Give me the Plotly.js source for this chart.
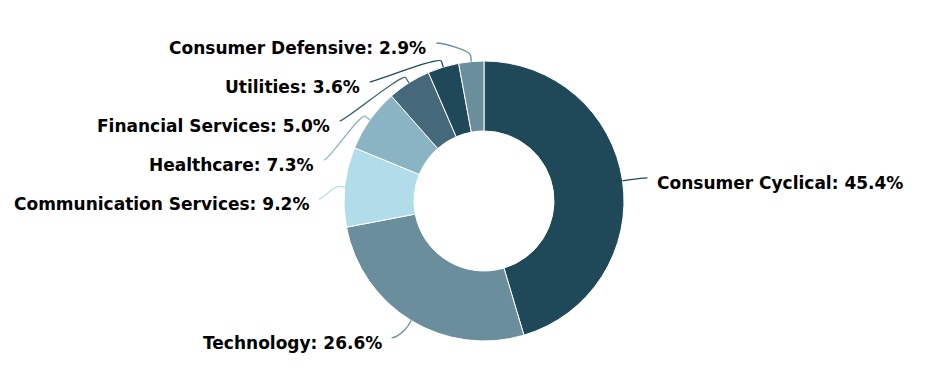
<!DOCTYPE html>
<html>
<head>
<meta charset="utf-8">
<script src="https://cdn.plot.ly/plotly-3.0.1.min.js"></script>
<style>html,body{margin:0;padding:0;background:#fff}#chart{width:932px;height:386px}</style>
</head>
<body>
<div id="chart"></div>
<script>
// ---- data ----
const sectors = ['Consumer Cyclical', 'Technology', 'Communication Services', 'Healthcare', 'Financial Services', 'Utilities', 'Consumer Defensive'];
const shares = [45.4, 26.6, 9.2, 7.3, 5.0, 3.6, 2.9];
const sliceColors = ['#1f4858', '#6a8e9c', '#b1dcea', '#8ab3c3', '#45687a', '#1f4858', '#6a8e9c'];

// ---- layout constants ----
const W = 932, H = 386;
const CX = 484, CY = 201, R = 140;      // pie centre / outer radius in px
const LABEL_RY = 160;                   // natural label distance (vertical)
const LABEL_RX = 165;                   // label circle for x
const SPACING = 39, TOP = 43, BOTTOM = 370;
const BREAK = 6;

const px = x => x / W;
const py = y => 1 - y / H;

const total = shares.reduce((a, b) => a + b, 0);
let cum = 0;
const pts = shares.map((v, i) => {
  const mid = (cum + v / 2) / total;
  cum += v;
  const th = (-90 + 360 * mid) * Math.PI / 180;
  return {
    i, th, cos: Math.cos(th), sin: Math.sin(th),
    right: Math.cos(th) >= 0,
    y: CY + LABEL_RY * Math.sin(th)
  };
});

function distribute(list) {
  list.sort((a, b) => a.y - b.y);
  let prev = TOP - SPACING;
  list.forEach(p => { p.y = Math.max(p.y, prev + SPACING, TOP); prev = p.y; });
  let next = BOTTOM + SPACING;
  for (let k = list.length - 1; k >= 0; k--) {
    list[k].y = Math.min(list[k].y, next - SPACING); next = list[k].y;
  }
}
distribute(pts.filter(p => p.right));
distribute(pts.filter(p => !p.right));

const annotations = [], shapes = [];
pts.forEach(p => {
  const dy = p.y - CY;
  const dx = Math.sqrt(Math.max(LABEL_RX * LABEL_RX - dy * dy, 0));
  const s = p.right ? 1 : -1;
  const lx = CX + s * dx, ly = p.y;
  const tx = CX + R * p.cos, ty = CY + R * p.sin;
  const bx = CX + (R + BREAK) * p.cos, by = CY + (R + BREAK) * p.sin;
  const c2x = 2 * bx - tx, c2y = 2 * by - ty;
  const path = `M ${px(lx)},${py(ly)} C ${px(lx - s * 5)},${py(ly)} ${px(c2x)},${py(c2y)} ${px(bx)},${py(by)} L ${px(tx)},${py(ty)}`;
  shapes.push({type: 'path', xref: 'paper', yref: 'paper', path: path,
    line: {color: sliceColors[p.i], width: 1.3}});
  annotations.push({
    xref: 'paper', yref: 'paper', showarrow: false,
    x: px(lx + s * 8), y: py(ly + 5),
    xanchor: p.right ? 'left' : 'right', yanchor: 'middle',
    text: sectors[p.i] + ': ' + shares[p.i].toFixed(1) + '%',
    font: {family: 'DejaVu Sans', size: 17, weight: 'bold', color: '#000000'}
  });
});

const trace = {
  type: 'pie',
  labels: sectors,
  values: shares,
  hole: 0.5,
  sort: false,
  direction: 'clockwise',
  rotation: 0,
  textinfo: 'none',
  hoverinfo: 'label+percent',
  marker: {colors: sliceColors, line: {color: '#ffffff', width: 1}},
  domain: {x: [px(CX - R), px(CX + R)], y: [py(CY + R), py(CY - R)]},
  showlegend: false
};

Plotly.newPlot('chart', [trace], {
  width: W, height: H,
  margin: {l: 0, r: 0, t: 0, b: 0},
  paper_bgcolor: '#ffffff',
  showlegend: false,
  annotations: annotations,
  shapes: shapes
}, {displayModeBar: false, staticPlot: true});
</script>
</body>
</html>
